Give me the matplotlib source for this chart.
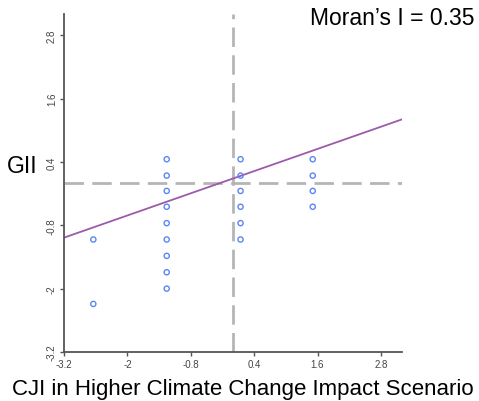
import matplotlib
matplotlib.use("Agg")
import matplotlib.pyplot as plt
import numpy as np

plt.rcParams['font.family'] = ['Liberation Sans', 'DejaVu Sans']

# Data (standardized CJI vs spatially lagged GII)
x_vals = [-2.645, -2.645,
          -1.255, -1.255, -1.255, -1.255, -1.255, -1.255, -1.255, -1.255, -1.255,
          0.143, 0.143, 0.143, 0.143, 0.143, 0.143,
          1.51, 1.51, 1.51, 1.51]
y_vals = [-1.07, -2.29,
          0.45, 0.14, -0.15, -0.45, -0.76, -1.07, -1.38, -1.69, -2.0,
          0.45, 0.14, -0.15, -0.45, -0.76, -1.07,
          0.45, 0.14, -0.15, -0.45]
slope = 0.35
intercept = 0.085
tick_vals = [-3.2, -2, -0.8, 0.4, 1.6, 2.8]
tick_labels = ["-3.2", "-2", "-0.8", "0.4", "1.6", "2.8"]
morans_text = "Moran\u2019s I = 0.35"
xlabel_text = "CJI in Higher Climate Change Impact Scenario"
ylabel_text = "GII"

W, H = 479, 402
fig = plt.figure(figsize=(W/100, H/100), dpi=100)
ax = fig.add_axes([64/W, 1-353/H, (402-64)/W, (353-15)/H])

ax.set_xlim(-3.2, 3.2)
ax.set_ylim(-3.2, 3.2)

ax.axvline(0, color='#b5b5b5', lw=2, ls=(0, (7, 3)), zorder=1)
ax.axhline(0, color='#b5b5b5', lw=2, ls=(0, (7, 3)), zorder=1)

xl = np.array([-3.2, 3.2])
ax.plot(xl, intercept + slope*xl, color='#9c5aaa', lw=1.3, zorder=2)

ax.scatter(x_vals, y_vals, s=14, facecolors='none', edgecolors='#5b86f5',
           linewidths=1.0, zorder=3)

for s in ['top', 'right']:
    ax.spines[s].set_visible(False)
for s in ['left', 'bottom']:
    ax.spines[s].set_color('#555555')
    ax.spines[s].set_linewidth(1.3)

ax.set_xticks(tick_vals)
ax.set_xticklabels(tick_labels)
ax.set_yticks(tick_vals)
ax.set_yticklabels(tick_labels, rotation=90, va='center')
ax.tick_params(axis='both', length=3, width=1, color='#555555',
               labelsize=7, labelcolor='#444444', pad=2)

fig.text(475/W, 1-25/H, morans_text, ha='right', va='baseline', fontsize=16.5, color='black')
fig.text(7/W, 1-173/H, ylabel_text, ha='left', va='baseline', fontsize=16.5, color='black')
fig.text(12/W, 1-395/H, xlabel_text, ha='left', va='baseline', fontsize=16, color='black')

fig.savefig('out.png', dpi=100)
